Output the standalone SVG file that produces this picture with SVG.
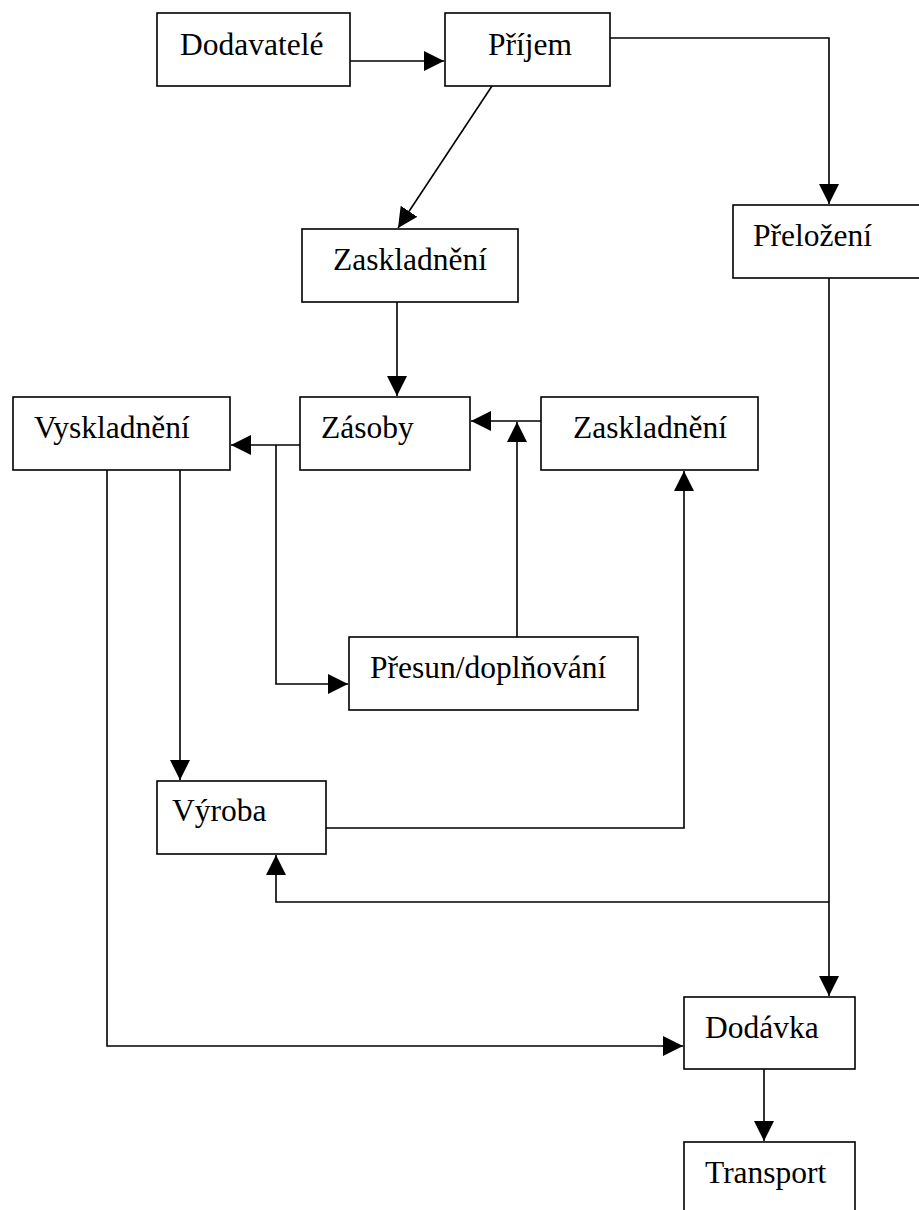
<svg xmlns="http://www.w3.org/2000/svg" width="919" height="1210" viewBox="0 0 919 1210">
<style>
.box{fill:#fff;stroke:#000;stroke-width:1.6}
.lbl{font-family:"Liberation Serif","Times New Roman",serif;font-size:31.5px;fill:#000}
.con{fill:none;stroke:#000;stroke-width:1.6}
</style>
<defs>
<marker id="ah" markerUnits="userSpaceOnUse" markerWidth="22" markerHeight="22" refX="20" refY="10" orient="auto">
<path d="M0,0 L20,10 L0,20 z" fill="#000"/>
</marker>
</defs>
<rect width="919" height="1210" fill="#fff"/>
<g id="connectors">
<path class="con" d="M348,61 H444" marker-end="url(#ah)"/>
<path class="con" d="M610,38 H829 V204" marker-end="url(#ah)"/>
<path class="con" d="M492,86 L398,228" marker-end="url(#ah)"/>
<path class="con" d="M397,302 V396" marker-end="url(#ah)"/>
<path class="con" d="M541,421 H471" marker-end="url(#ah)"/>
<path class="con" d="M300,445 H231" marker-end="url(#ah)"/>
<path class="con" d="M276,445 V684 H348" marker-end="url(#ah)"/>
<path class="con" d="M517,637 V422" marker-end="url(#ah)"/>
<path class="con" d="M107,470 V1046 H683" marker-end="url(#ah)"/>
<path class="con" d="M180,470 V780" marker-end="url(#ah)"/>
<path class="con" d="M326,828 H684 V471" marker-end="url(#ah)"/>
<path class="con" d="M829,278 V996" marker-end="url(#ah)"/>
<path class="con" d="M829,902 H276 V855" marker-end="url(#ah)"/>
<path class="con" d="M764,1069 V1141" marker-end="url(#ah)"/>
</g>
<g id="dodavatele"><rect class="box" x="157" y="13" width="193" height="73"/><text class="lbl" x="180" y="55">Dodavatelé</text></g>
<g id="prijem"><rect class="box" x="445" y="13" width="165" height="73"/><text class="lbl" x="488" y="55">Příjem</text></g>
<g id="prelozeni"><rect class="box" x="733" y="205" width="200" height="73"/><text class="lbl" x="753" y="246">Přeložení</text></g>
<g id="zaskladneni1"><rect class="box" x="302" y="229" width="216" height="73"/><text class="lbl" x="333" y="270">Zaskladnění</text></g>
<g id="vyskladneni"><rect class="box" x="13" y="397" width="217" height="73"/><text class="lbl" x="34" y="438">Vyskladnění</text></g>
<g id="zasoby"><rect class="box" x="300" y="397" width="170" height="73"/><text class="lbl" x="321" y="438">Zásoby</text></g>
<g id="zaskladneni2"><rect class="box" x="541" y="397" width="217" height="73"/><text class="lbl" x="573" y="438">Zaskladnění</text></g>
<g id="presun"><rect class="box" x="349" y="637" width="289" height="73"/><text class="lbl" x="370" y="678">Přesun/doplňování</text></g>
<g id="vyroba"><rect class="box" x="157" y="781" width="169" height="73"/><text class="lbl" x="172" y="821">Výroba</text></g>
<g id="dodavka"><rect class="box" x="684" y="997" width="171" height="72"/><text class="lbl" x="705" y="1038">Dodávka</text></g>
<g id="transport"><rect class="box" x="684" y="1142" width="171" height="80"/><text class="lbl" x="705" y="1183">Transport</text></g>
</svg>
